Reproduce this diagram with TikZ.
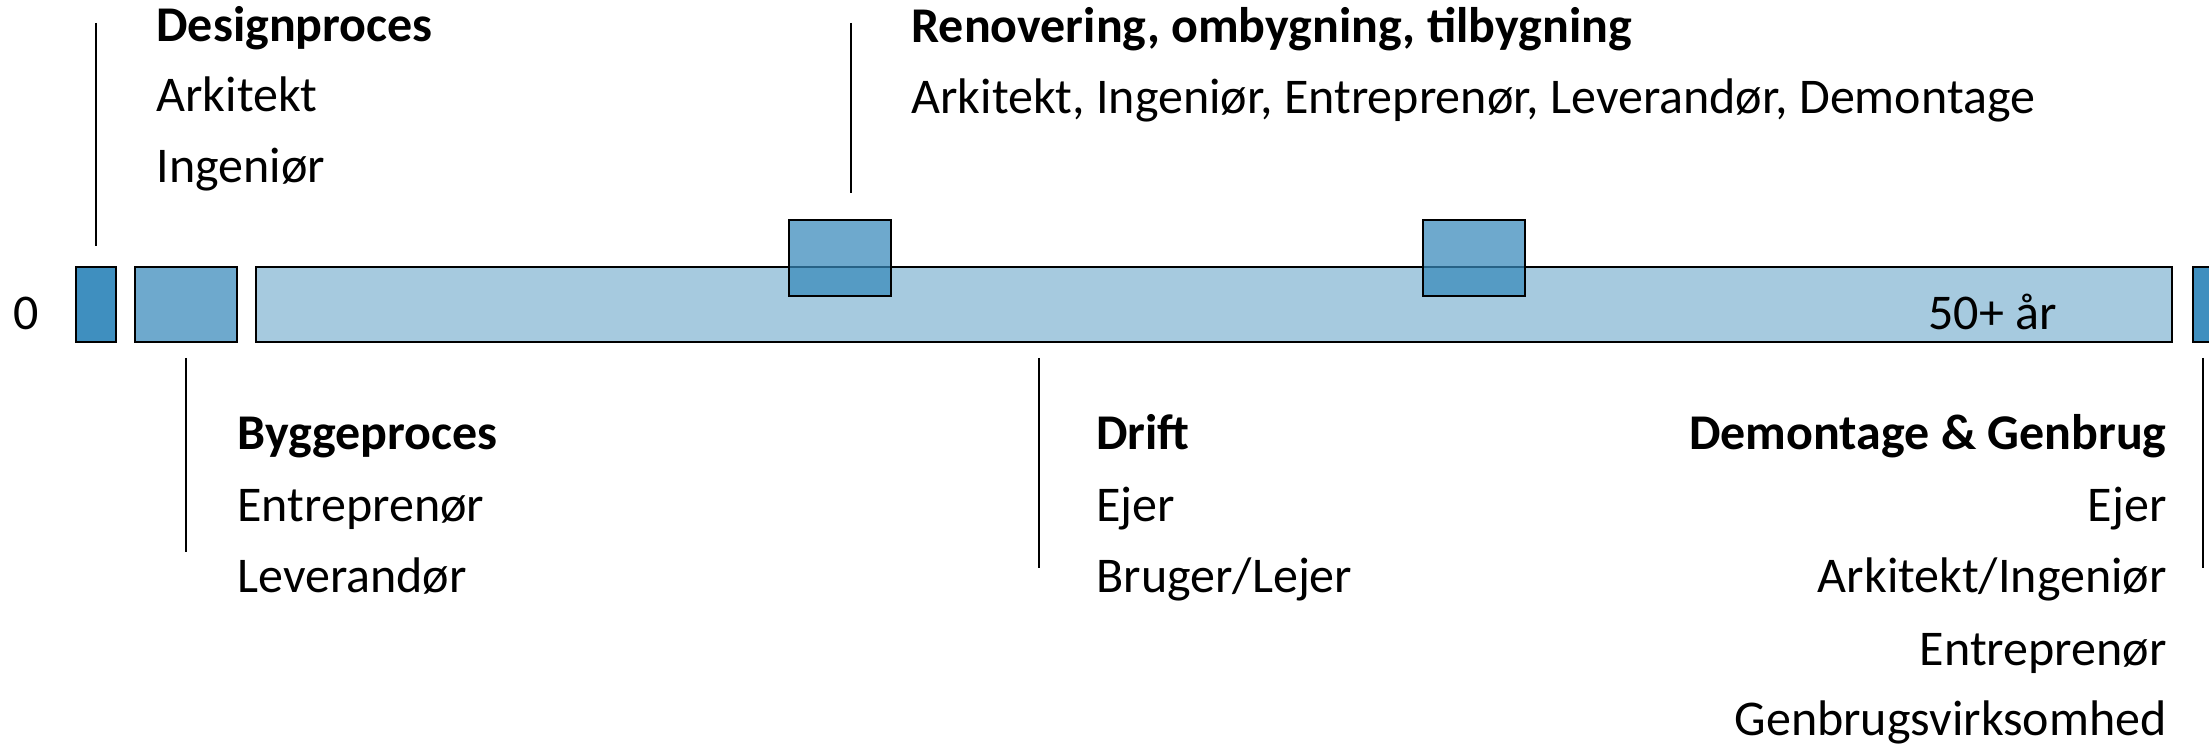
\documentclass[tikz,border=0pt]{standalone}
\usepackage{fontspec}
\setmainfont{Carlito}
\begin{document}
\begin{tikzpicture}[x=0.5pt,y=-0.5pt,
  txt/.style={inner sep=0pt, font=\fontsize{25}{29}\selectfont, text=black},
  head/.style={txt, font=\fontsize{25}{29}\selectfont\bfseries},
  darkbox/.style={draw=black, line width=1.1pt, fill=darkblue, inner sep=0pt, minimum width=20pt, minimum height=37.5pt},
  midbox/.style={draw=black, line width=1.1pt, fill=midblue, fill opacity=0.72, inner sep=0pt, minimum width=51pt, minimum height=38pt},
  barbox/.style={draw=black, line width=1.1pt, fill=lightblue, inner sep=0pt, minimum width=958pt, minimum height=37.5pt},
  tick/.style={draw=black, line width=1pt}]
\definecolor{darkblue}{HTML}{3F8FBF}
\definecolor{midblue}{HTML}{3789BA}
\definecolor{lightblue}{HTML}{A6CADF}
\useasboundingbox (0,0) rectangle (2209,747);
\clip (0,0) rectangle (2209,747);
\fill[white] (0,0) rectangle (2209,747);

% timeline boxes
\node[darkbox] (d1) at (96,304.5) {};
\node[midbox, minimum height=37.5pt] (b2) at (186,304.5) {};
\node[barbox] (bar) at (1214,304.5) {};
\node[midbox] (r1) at (840,258) {};
\node[midbox] (r2) at (1474,258) {};
\node[darkbox] (d2) at (2213,304.5) {};

% labels on the timeline
\node[txt, anchor=base] (zero) at (26,330) {0};
\node[txt, anchor=base east] (years) at (2057,330) {50+ år};

% ticks
\coordinate (t1a) at (96,23);   \coordinate (t1b) at (96,246);
\coordinate (t2a) at (851,23);  \coordinate (t2b) at (851,193);
\coordinate (t3a) at (186,358); \coordinate (t3b) at (186,552);
\coordinate (t4a) at (1039,358);\coordinate (t4b) at (1039,568);
\coordinate (t5a) at (2203,358);\coordinate (t5b) at (2203,568);
\draw[tick] (t1a) -- (t1b);
\draw[tick] (t2a) -- (t2b);
\draw[tick] (t3a) -- (t3b);
\draw[tick] (t4a) -- (t4b);
\draw[tick] (t5a) -- (t5b);

% Designproces
\node[head, anchor=base west] (dp) at (156,42) {Designproces};
\node[txt, anchor=base west] (dp1) at (156,112) {Arkitekt};
\node[txt, anchor=base west] (dp2) at (156,183) {Ingeniør};

% Renovering
\node[head, anchor=base west] (rv) at (911,43) {Renovering, ombygning, tilbygning};
\node[txt, anchor=base west] (rv1) at (911,114) {Arkitekt, Ingeniør, Entreprenør, Leverandør, Demontage};

% Byggeproces
\node[head, anchor=base west] (bp) at (237,450) {Byggeproces};
\node[txt, anchor=base west] (bp1) at (237,522) {Entreprenør};
\node[txt, anchor=base west] (bp2) at (237,593) {Leverandør};

% Drift
\node[head, anchor=base west] (dr) at (1096,450) {Drift};
\node[txt, anchor=base west] (dr1) at (1096,522) {Ejer};
\node[txt, anchor=base west] (dr2) at (1096,593) {Bruger/Lejer};

% Demontage & Genbrug
\node[head, anchor=base east] (dg) at (2167,450) {Demontage \& Genbrug};
\node[txt, anchor=base east] (dg1) at (2167,522) {Ejer};
\node[txt, anchor=base east] (dg2) at (2167,593) {Arkitekt/Ingeniør};
\node[txt, anchor=base east] (dg3) at (2167,665) {Entreprenør};
\node[txt, anchor=base east] (dg4) at (2167,735) {Genbrugsvirksomhed};
\end{tikzpicture}
\end{document}
